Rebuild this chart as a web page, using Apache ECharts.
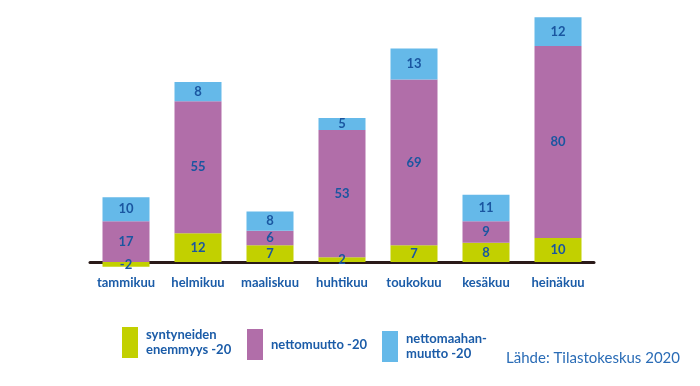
<!DOCTYPE html>
<html><head><meta charset="utf-8">
<script src="https://cdn.jsdelivr.net/npm/echarts@6/dist/echarts.min.js"></script>
<style>html,body{margin:0;padding:0;background:#fff}#c{width:700px;height:386px}</style>
</head><body><div id="c"></div>
<script>
const categories = ['tammikuu','helmikuu','maaliskuu','huhtikuu','toukokuu','kesäkuu','heinäkuu'];
const syntyneet = [-2, 12, 7, 2, 7, 8, 10];
const nettomuutto = [17, 55, 6, 53, 69, 9, 80];
const maahanmuutto = [10, 8, 8, 5, 13, 11, 12];
const seriesNames = ['syntyneiden enemmyys -20', 'nettomuutto -20', 'nettomaahanmuutto -20'];
const legendTexts = ['syntyneiden\nenemmyys -20', 'nettomuutto -20', 'nettomaahan-\nmuutto -20'];
const source = 'Lähde: Tilastokeskus 2020';

const FONT = 'Lato';
const BLUE_TXT = '#1b5ca8';
const colors = ['#c2d000', '#b16ea9', '#65b9e9'];
const chart = echarts.init(document.getElementById('c'));
const lbl = {show:true, position:'inside', color:'#1a56a0', fontWeight:'bold', fontSize:13, fontFamily:FONT};
const legendPos = [[117,322],[242,324],[377,326]];
chart.setOption({
  animation:false,
  grid:{left:90, width:504, top:10, height:252},
  title:{text:source, right:20, top:351, padding:0, textStyle:{color:'#2a6cb6', fontWeight:'normal', fontSize:15, fontFamily:FONT}},
  legend: seriesNames.map((n,i)=>({
    data:[n], left:legendPos[i][0], top:legendPos[i][1], itemWidth:16, itemHeight:31, orient:'horizontal',
    icon:'rect', selectedMode:false,
    formatter:()=>legendTexts[i],
    textStyle:{color:BLUE_TXT, fontWeight:'bold', fontSize:13, fontFamily:FONT, lineHeight:15, padding:[0,0,0,3]}
  })),
  xAxis:{type:'category', data:categories,
    axisLine:{lineStyle:{color:'#2a1a18', width:3}},
    axisTick:{show:false},
    axisLabel:{color:BLUE_TXT, fontWeight:'bold', fontSize:13, fontFamily:FONT, margin:14, interval:0}},
  yAxis:{type:'value', min:0, max:105, show:false, splitLine:{show:false}},
  series:[
    {name:seriesNames[0], type:'bar', stack:'a', data:syntyneet, barWidth:47, clip:false, itemStyle:{color:colors[0]}, label:lbl},
    {name:seriesNames[1], type:'bar', stack:'a', data:nettomuutto, barWidth:47, clip:false, itemStyle:{color:colors[1]}, label:lbl},
    {name:seriesNames[2], type:'bar', stack:'a', data:maahanmuutto, barWidth:47, clip:false, itemStyle:{color:colors[2]}, label:lbl}
  ]
});
</script></body></html>
